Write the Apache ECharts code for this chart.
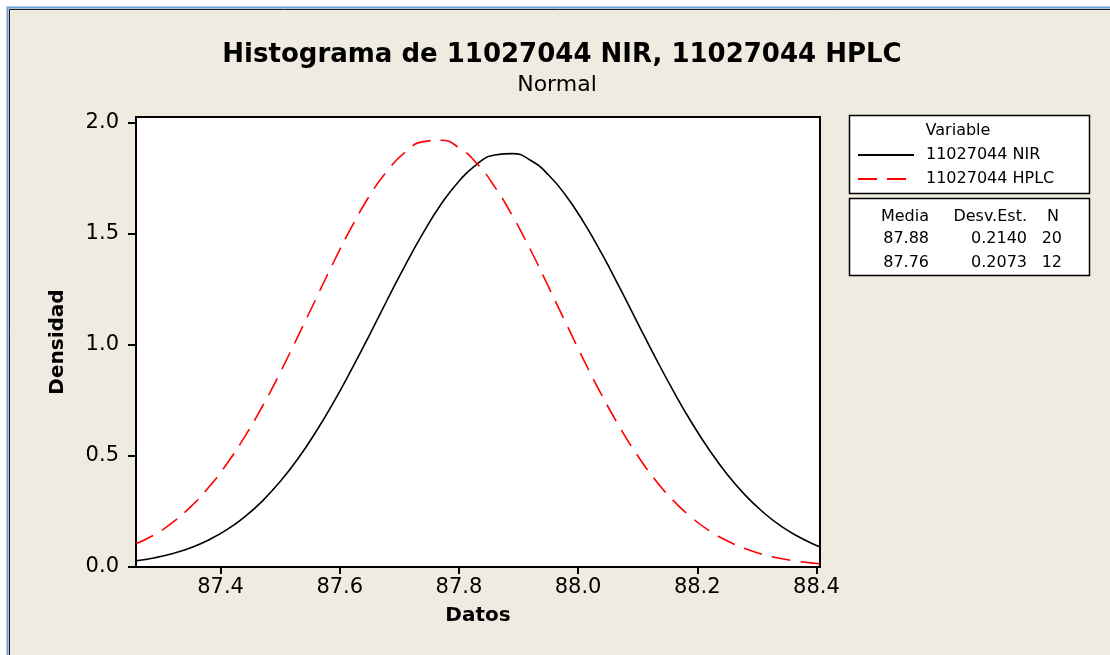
<!DOCTYPE html>
<html>
<head>
<meta charset="utf-8">
<script src="https://cdn.jsdelivr.net/npm/echarts@6/dist/echarts.min.js"></script>
<style>
  html, body { margin: 0; padding: 0; background: #fff; }
  #chart { width: 1110px; height: 655px; }
</style>
</head>
<body>
<div id="chart"></div>
<script>
// values (density of each fitted normal curve)
const xVals = [87.258, 87.29, 87.32, 87.35, 87.38, 87.41, 87.44, 87.47, 87.50, 87.53,
  87.56, 87.59, 87.62, 87.65, 87.68, 87.71, 87.74, 87.77, 87.80, 87.83,
  87.86, 87.89, 87.92, 87.95, 87.98, 88.01, 88.04, 88.07, 88.10, 88.13,
  88.16, 88.19, 88.22, 88.25, 88.28, 88.31, 88.34, 88.37, 88.40, 88.406];
const nirDensity = [0.028, 0.042, 0.061, 0.087, 0.122, 0.167, 0.225, 0.297, 0.385, 0.489,
  0.609, 0.744, 0.891, 1.046, 1.205, 1.360, 1.505, 1.634, 1.738, 1.814,
  1.856, 1.862, 1.832, 1.767, 1.671, 1.550, 1.410, 1.257, 1.099, 0.942,
  0.792, 0.653, 0.528, 0.418, 0.325, 0.248, 0.185, 0.136, 0.097, 0.093];
const hplcDensity = [0.105, 0.147, 0.202, 0.272, 0.359, 0.463, 0.585, 0.723, 0.876, 1.040,
  1.208, 1.375, 1.532, 1.672, 1.786, 1.869, 1.916, 1.922, 1.889, 1.818,
  1.713, 1.581, 1.429, 1.264, 1.096, 0.930, 0.773, 0.629, 0.501, 0.391,
  0.299, 0.224, 0.164, 0.118, 0.083, 0.057, 0.038, 0.025, 0.016, 0.015];
const xTicks = [87.4, 87.6, 87.8, 88.0, 88.2, 88.4];
const yTicks = [0, 0.5, 1.0, 1.5, 2.0];
const seriesNames = ["11027044 NIR", "11027044 HPLC"];
const statHeaders = ["Media", "Desv.Est.", "N"];
const statMeans = ["87.88", "87.76"];
const statStdDevs = ["0.2140", "0.2073"];
const statCounts = ["20", "12"];

const font = "DejaVu Sans";
const chart = echarts.init(document.getElementById("chart"));

const toPairs = (ys) => xVals.map((x, i) => [x, ys[i]]);

// stats table under the legend
const colRight = [929, 1027, 1059];
const rowY = [216.5, 238.5, 262.5];
const statText = [];
statHeaders.forEach((h, c) => {
  statText.push({ type: "text", x: colRight[c], y: rowY[0],
    style: { text: h, align: "right", verticalAlign: "middle", font: "16px '" + font + "'", fill: "#000" } });
});
[statMeans, statStdDevs, statCounts].forEach((col, c) => {
  col.forEach((v, r) => {
    statText.push({ type: "text", x: c === 2 ? 1062 : colRight[c], y: rowY[r + 1],
      style: { text: v, align: "right", verticalAlign: "middle", font: "16px '" + font + "'", fill: "#000" } });
  });
});

chart.setOption({
  animation: false,
  backgroundColor: "#efebe1",
  textStyle: { fontFamily: font },
  title: [
    {
      text: "Histograma de 11027044 NIR, 11027044 HPLC",
      left: 557, top: 37, textAlign: "center",
      textStyle: { fontFamily: font, fontSize: 26, fontWeight: "bold", color: "#000" }
    },
    {
      text: "Normal",
      left: 552, top: 69, textAlign: "center",
      textStyle: { fontFamily: font, fontSize: 22, fontWeight: "normal", color: "#000" }
    }
  ],
  legend: {
    orient: "vertical",
    left: 857, top: 147,
    padding: 0,
    itemWidth: 56, itemHeight: 14, itemGap: 8,
    selectedMode: false,
    itemStyle: { opacity: 0, color: "rgba(0,0,0,0)", borderWidth: 0 },
    textStyle: { fontFamily: font, fontSize: 16, color: "#000", padding: [0, 0, 0, 7] },
    data: seriesNames
  },
  grid: {
    show: true,
    left: 136, right: 290, top: 117, bottom: 88,
    backgroundColor: "#fff",
    borderColor: "#000",
    borderWidth: 2
  },
  xAxis: {
    type: "value",
    min: 87.258, max: 88.406,
    name: "Datos",
    nameLocation: "middle",
    nameGap: 39,
    nameTextStyle: { fontFamily: font, fontSize: 20, fontWeight: "bold", color: "#000" },
    axisLine: { lineStyle: { color: "#000", width: 2 } },
    axisTick: { customValues: xTicks, length: 7, lineStyle: { color: "#000", width: 2 } },
    axisLabel: {
      customValues: xTicks, margin: 10,
      fontFamily: font, fontSize: 21, color: "#000",
      formatter: (v) => v.toFixed(1)
    },
    splitLine: { show: false }
  },
  yAxis: {
    type: "value",
    min: 0, max: 2.027,
    name: "Densidad",
    nameLocation: "middle",
    nameRotate: 90,
    nameGap: 68,
    nameTextStyle: { fontFamily: font, fontSize: 20, fontWeight: "bold", color: "#000" },
    axisLine: { show: true, lineStyle: { color: "#000", width: 2 } },
    axisTick: { show: true, customValues: yTicks, length: 8, lineStyle: { color: "#000", width: 2 } },
    axisLabel: {
      customValues: yTicks, margin: 17,
      fontFamily: font, fontSize: 21, color: "#000",
      formatter: (v) => v.toFixed(1)
    },
    splitLine: { show: false }
  },
  series: [
    {
      name: seriesNames[0],
      type: "line",
      data: toPairs(nirDensity),
      smooth: true,
      symbol: "none",
      color: "#000",
      lineStyle: { color: "#000", width: 1.6 }
    },
    {
      name: seriesNames[1],
      type: "line",
      data: toPairs(hplcDensity),
      smooth: true,
      symbol: "none",
      color: "#ff0000",
      lineStyle: { color: "#ff0000", width: 1.6, type: [19, 10] }
    }
  ],
  graphic: [
    // window frame, cut off at right and bottom
    { type: "rect", shape: { x: 0, y: 0, width: 1110, height: 7 }, style: { fill: "#fff" } },
    { type: "rect", shape: { x: 0, y: 0, width: 7, height: 655 }, style: { fill: "#fff" } },
    { type: "polyline", shape: { points: [[7.5, 655], [7.5, 7.5], [1110, 7.5]] },
      style: { stroke: "#6a9fd8", lineWidth: 2, fill: null } },
    { type: "polyline", shape: { points: [[9.5, 655], [9.5, 9.5], [1110, 9.5]] },
      style: { stroke: "#1a1a1a", lineWidth: 1, fill: null } },
    // legend boxes
    { type: "rect", shape: { x: 849.5, y: 115.5, width: 240, height: 78 },
      style: { fill: "#fff", stroke: "#000", lineWidth: 1.5 } },
    { type: "rect", shape: { x: 849.5, y: 198.5, width: 240, height: 77 },
      style: { fill: "#fff", stroke: "#000", lineWidth: 1.5 } },
    { type: "text", x: 958, y: 131,
      style: { text: "Variable", align: "center", verticalAlign: "middle", font: "16px '" + font + "'", fill: "#000" } }
  ].concat(statText)
});
</script>
</body>
</html>
